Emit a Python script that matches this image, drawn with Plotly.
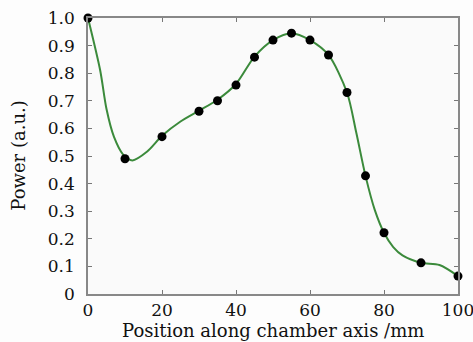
import plotly.graph_objects as go

# measured points
pos = [0, 10, 20, 30, 35, 40, 45, 50, 55, 60, 65, 70, 75, 80, 90, 100]
power = [1.0, 0.49, 0.57, 0.662, 0.70, 0.757, 0.858, 0.92, 0.945, 0.92, 0.866, 0.73, 0.428, 0.222, 0.113, 0.065]

# fitted curve
curve_x = [0, 3.3, 5, 7, 9.5, 12, 16, 20, 25, 30, 35, 40, 45, 50, 55, 60, 65, 70, 72.5, 75, 77.5, 80, 82.5, 85, 90, 95, 100]
curve_y = [1.0, 0.81, 0.67, 0.57, 0.505, 0.484, 0.516, 0.573, 0.625, 0.664, 0.704, 0.761, 0.86, 0.92, 0.945, 0.92, 0.866, 0.73, 0.585, 0.428, 0.305, 0.222, 0.17, 0.14, 0.113, 0.105, 0.065]

x_ticks = [0, 20, 40, 60, 80, 100]
y_ticks = [0, 0.1, 0.2, 0.3, 0.4, 0.5, 0.6, 0.7, 0.8, 0.9, 1.0]
y_labels = ["0", "0.1", "0.2", "0.3", "0.4", "0.5", "0.6", "0.7", "0.8", "0.9", "1.0"]

x_title = "Position along chamber axis /mm"
y_title = "Power (a.u.)"

fig = go.Figure()
fig.add_trace(go.Scatter(x=curve_x, y=curve_y, mode="lines",
                         line=dict(color="#3b8a3b", width=2, shape="spline", smoothing=0.8),
                         hoverinfo="skip", showlegend=False))
fig.add_trace(go.Scatter(x=pos, y=power, mode="markers",
                         marker=dict(color="black", size=9),
                         showlegend=False, cliponaxis=False))

serif = "DejaVu Serif, Liberation Serif, serif"

fig.update_layout(
    width=473, height=342,
    margin=dict(l=88, r=15, t=18, b=48, autoexpand=False),
    paper_bgcolor="#fdfdfd", plot_bgcolor="#fafafa",
    font=dict(family=serif, color="#111", size=17),
    xaxis=dict(range=[0, 100], tickvals=x_ticks, ticks="inside", ticklen=4,
               tickcolor="#777", showgrid=False, zeroline=False, automargin=False,
               showline=True, linecolor="#888", linewidth=1.5, mirror="ticks",
               ticklabelstandoff=0, ticklabeloverflow="allow", tickfont=dict(size=17)),
    yaxis=dict(range=[0, 1.0], tickvals=y_ticks, ticktext=y_labels, ticks="inside",
               ticklen=4, tickcolor="#777", showgrid=False, zeroline=False, automargin=False,
               showline=True, linecolor="#888", linewidth=1.5, mirror="ticks",
               ticklabelstandoff=8, ticklabeloverflow="allow", tickfont=dict(size=17)),
    annotations=[
        dict(text=x_title, xref="paper", yref="paper", x=0.5, y=-0.131,
             xanchor="center", yanchor="middle", showarrow=False,
             font=dict(family=serif, size=18, color="#111")),
        dict(text=y_title, xref="paper", yref="paper", x=-0.19, y=0.5,
             xanchor="center", yanchor="middle", textangle=-90, showarrow=False,
             font=dict(family=serif, size=18, color="#111")),
    ],
)

fig.write_html("out.html", config={"displayModeBar": False},
               post_script="document.body.style.margin='0';document.body.style.overflow='hidden';")
